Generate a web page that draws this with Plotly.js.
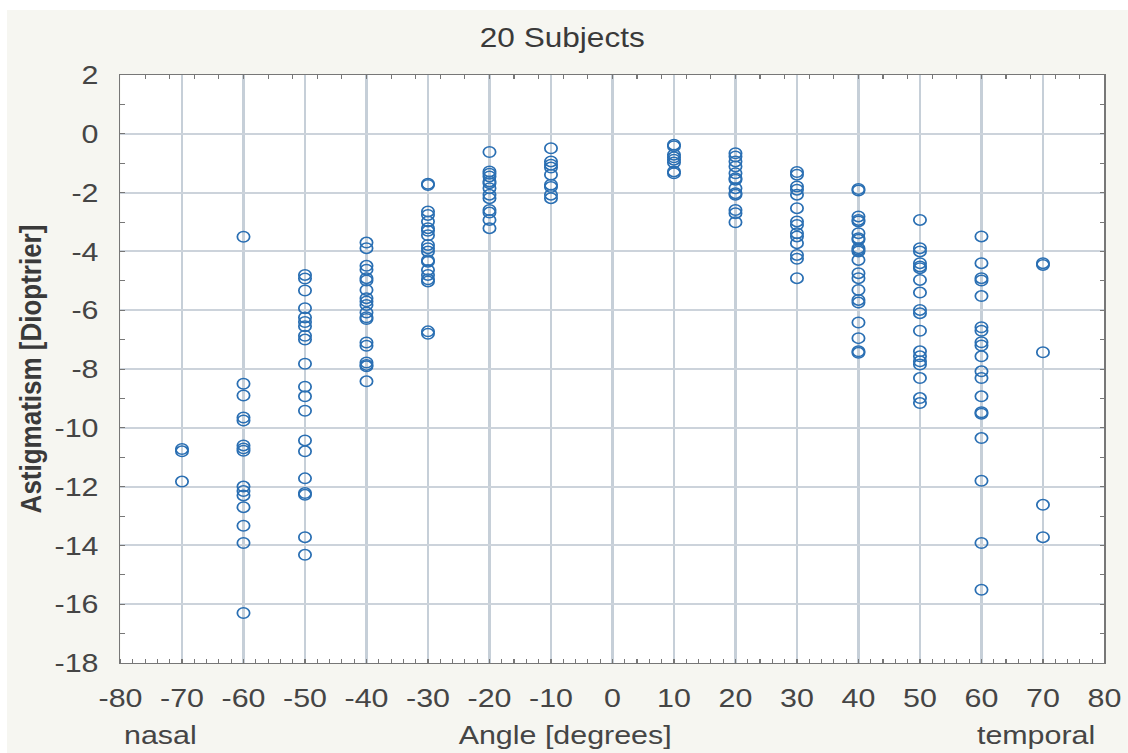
<!DOCTYPE html>
<html>
<head>
<meta charset="utf-8">
<script src="https://cdn.plot.ly/plotly-3.0.1.min.js"></script>
<style>
  html, body { margin: 0; padding: 0; background: #ffffff; width: 1128px; height: 753px; overflow: hidden; }
  #chart { position: absolute; left: 7px; top: 10px; width: 958px; height: 743px;
           transform: scaleX(1.17); transform-origin: 0 0; }
</style>
</head>
<body>
<div id="chart"></div>
<script>
const angles = [-70, -60, -50, -40, -30, -20, -10, 10, 20, 30, 40, 50, 60, 70];
const astM70 = [-10.72, -10.8, -11.83];
const astM60 = [-3.5, -8.5, -8.9, -9.65, -9.75, -10.6, -10.7, -10.78, -12.0, -12.15, -12.3, -12.7, -13.33, -13.92, -16.3];
const astM50 = [-4.8, -4.92, -5.33, -5.93, -6.25, -6.4, -6.55, -6.87, -7.0, -7.82, -8.6, -8.93, -9.42, -10.43, -10.8, -11.72, -12.22, -12.28, -13.72, -14.32];
const astM40 = [-3.7, -3.89, -4.49, -4.62, -4.91, -4.99, -5.31, -5.59, -5.7, -5.82, -6.08, -6.24, -6.3, -7.1, -7.21, -7.78, -7.86, -7.91, -8.42];
const astM30 = [-1.7, -1.74, -2.64, -2.76, -2.98, -3.21, -3.3, -3.45, -3.78, -3.89, -4.0, -4.3, -4.35, -4.63, -4.8, -4.95, -5.02, -6.72, -6.8];
const astM20 = [-0.62, -1.28, -1.36, -1.45, -1.62, -1.68, -1.85, -2.07, -2.19, -2.59, -2.68, -2.93, -3.21];
const astM10 = [-0.49, -0.94, -1.05, -1.15, -1.39, -1.73, -1.81, -2.07, -2.19];
const astP10 = [-0.37, -0.42, -0.71, -0.8, -0.88, -0.98, -1.28, -1.34];
const astP20 = [-0.66, -0.77, -0.94, -1.11, -1.34, -1.51, -1.56, -1.85, -2.02, -2.07, -2.59, -2.7, -3.01];
const astP30 = [-1.3, -1.39, -1.79, -1.9, -2.07, -2.53, -2.98, -3.1, -3.38, -3.49, -3.72, -4.12, -4.25, -4.91];
const astP40 = [-1.88, -1.93, -2.81, -2.93, -2.98, -3.38, -3.55, -3.6, -3.89, -3.95, -4.0, -4.29, -4.74, -4.91, -5.31, -5.65, -5.74, -6.42, -6.95, -7.4, -7.45];
const astP50 = [-2.93, -3.89, -4.0, -4.4, -4.51, -4.57, -4.97, -5.4, -5.99, -6.1, -6.7, -7.4, -7.57, -7.74, -7.85, -8.31, -8.99, -9.16];
const astP60 = [-3.49, -4.4, -4.91, -4.99, -5.52, -6.58, -6.7, -7.09, -7.2, -7.57, -8.08, -8.31, -8.93, -9.47, -9.52, -10.35, -11.8, -13.92, -15.51];
const astP70 = [-4.4, -4.46, -7.43, -12.62, -13.72];

const groups = [astM70, astM60, astM50, astM40, astM30, astM20, astM10,
                astP10, astP20, astP30, astP40, astP50, astP60, astP70];

// tick labels (plain hyphen minus, as in the reference)
const xTickVals = [-80, -70, -60, -50, -40, -30, -20, -10, 0, 10, 20, 30, 40, 50, 60, 70, 80];
const xTickText = ["-80", "-70", "-60", "-50", "-40", "-30", "-20", "-10", "0", "10", "20", "30", "40", "50", "60", "70", "80"];
const yTickVals = [2, 0, -2, -4, -6, -8, -10, -12, -14, -16, -18];
const yTickText = ["2", "0", "-2", "-4", "-6", "-8", "-10", "-12", "-14", "-16", "-18"];

const chartTitle = "20 Subjects";
const xTitle = "Angle [degrees]";
const yTitle = "Astigmatism [Dioptrier]";
const xSideLabels = ["nasal", "temporal"];

const xs = [], ys = [];
groups.forEach((g, i) => g.forEach(v => { xs.push(angles[i]); ys.push(v); }));

const txt = '#454545';
const fontFam = 'Arial, "Liberation Sans", sans-serif';

const trace = {
  x: xs, y: ys, type: 'scatter', mode: 'markers',
  marker: { symbol: 'circle-open', size: 10.5, color: '#2a6fb3', line: { width: 1.5 } },
  hoverinfo: 'x+y', showlegend: false
};
const topTrace = { x: [], y: [], xaxis: 'x2', yaxis: 'y', type: 'scatter', mode: 'markers', showlegend: false, hoverinfo: 'skip' };

const layout = {
  width: 958, height: 743,
  margin: { l: 97, r: 20, t: 65, b: 90 },
  paper_bgcolor: '#f6f6f1', plot_bgcolor: '#ffffff',
  font: { family: fontFam, color: txt, size: 26 },
  title: { text: chartTitle, font: { size: 27, color: '#3a3a3a', family: fontFam },
           xref: 'paper', x: 0.449, xanchor: 'center', yref: 'container', y: 0.963, yanchor: 'middle' },
  xaxis: {
    range: [-80, 80], tickmode: 'array', tickvals: xTickVals, ticktext: xTickText,
    showgrid: true, gridcolor: '#c6cfd8', gridwidth: 2.3,
    zeroline: false, showline: true, linecolor: '#777777', linewidth: 1.4, mirror: true,
    ticks: '', ticklabelstandoff: 11,
    minor: { dtick: 2, tick0: 0, ticks: 'inside', ticklen: 4, tickcolor: '#777777', showgrid: false },
    tickfont: { size: 26, color: txt }
  },
  xaxis2: {
    range: [-80, 80], overlaying: 'x', side: 'top', showticklabels: false, showgrid: false,
    zeroline: false, showline: false, ticks: 'inside', dtick: 4, tick0: -80, ticklen: 4, tickcolor: '#777777'
  },
  yaxis: {
    range: [-18, 2], tickmode: 'array', tickvals: yTickVals, ticktext: yTickText,
    showgrid: true, gridcolor: '#ccd3db', gridwidth: 2,
    zeroline: false, showline: true, linecolor: '#777777', linewidth: 1.6, mirror: 'ticks',
    ticks: 'inside', ticklen: 4, tickcolor: '#777777', ticklabelstandoff: 12,
    minor: { dtick: 1, tick0: 0, ticks: 'inside', ticklen: 4, tickcolor: '#777777', showgrid: false },
    tickfont: { size: 26, color: txt },
    title: { text: yTitle, font: { size: 26, color: '#3a3a3a', family: fontFam, weight: 'bold' }, standoff: 3 }
  },
  annotations: [
    { text: xSideLabels[0], xref: 'paper', yref: 'paper', x: 0.04, y: 0, xanchor: 'center', yanchor: 'middle', yshift: -72, showarrow: false, font: { size: 26, color: txt } },
    { text: xTitle, xref: 'paper', yref: 'paper', x: 0.452, y: 0, xanchor: 'center', yanchor: 'middle', yshift: -72, showarrow: false, font: { size: 26, color: txt } },
    { text: xSideLabels[1], xref: 'paper', yref: 'paper', x: 0.931, y: 0, xanchor: 'center', yanchor: 'middle', yshift: -72, showarrow: false, font: { size: 26, color: txt } }
  ]
};

Plotly.newPlot('chart', [trace, topTrace], layout, { displayModeBar: false, staticPlot: true });
</script>
</body>
</html>
